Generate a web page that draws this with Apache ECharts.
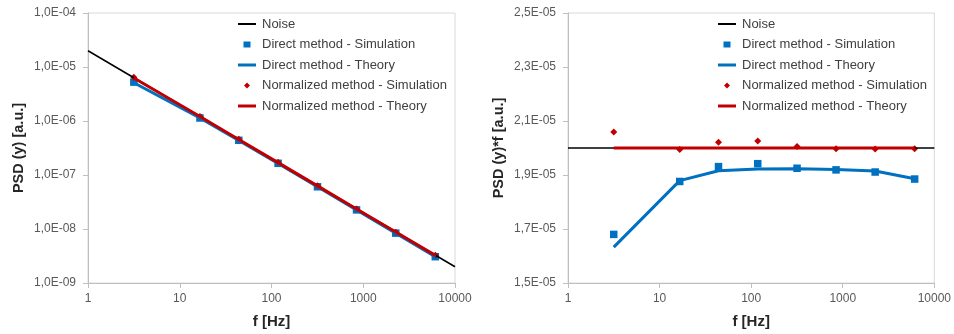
<!DOCTYPE html>
<html lang="en">
<head>
    <meta charset="UTF-8">
    <title>PSD</title>
    <style>
        html, body { margin: 0; padding: 0; background: #fff; }
        #chart { width: 954px; height: 334px; }
    </style>
</head>
<body>
    <div id="chart"></div>
    <script src="https://cdn.jsdelivr.net/npm/echarts@6/dist/echarts.min.js"></script>
    <script type="text/javascript">
    // frequencies of the simulated points [Hz]
    var freq = [3.16, 16.6, 44, 118, 317, 845, 2260, 6100];
    var noiseFreq = [1, 10000];
    var xTicks = ['1', '10', '100', '1000', '10000'];

    // left: PSD(y)
    var noisePsd = [2e-5, 2e-9];
    var directSimPsd = [5.25e-6, 1.137e-6, 4.39e-7, 1.646e-7, 6.05e-8, 2.26e-8, 8.38e-9, 3.07e-9];
    var directThPsd = [5.10e-6, 1.139e-6, 4.35e-7, 1.629e-7, 6.05e-8, 2.26e-8, 8.40e-9, 3.07e-9];
    var normSimPsd = [6.43e-6, 1.208e-6, 4.59e-7, 1.717e-7, 6.31e-8, 2.35e-8, 8.75e-9, 3.25e-9];
    var normThPsd = [6.25e-6, 1.212e-6, 4.55e-7, 1.695e-7, 6.29e-8, 2.35e-8, 8.77e-9, 3.25e-9];

    // right: PSD(y)*f
    var noisePsdF = [2.0e-5, 2.0e-5];
    var directSimPsdF = [1.680e-5, 1.876e-5, 1.931e-5, 1.942e-5, 1.925e-5, 1.919e-5, 1.911e-5, 1.885e-5];
    var directThPsdF = [1.633e-5, 1.879e-5, 1.916e-5, 1.922e-5, 1.923e-5, 1.920e-5, 1.915e-5, 1.886e-5];
    var normSimPsdF = [2.059e-5, 1.994e-5, 2.021e-5, 2.026e-5, 2.006e-5, 1.997e-5, 1.996e-5, 1.997e-5];
    var normThPsdF = [2.0e-5, 2.0e-5, 2.0e-5, 2.0e-5, 2.0e-5, 2.0e-5, 2.0e-5, 2.0e-5];

    var FONT = "'Liberation Sans', Arial, sans-serif";
    var BLUE = '#0070C0', RED = '#C00000';
    var NAMES = ['Noise', 'Direct method - Simulation', 'Direct method - Theory',
        'Normalized method - Simulation', 'Normalized method - Theory'];

    function pairs(xs, ys) {
        return xs.map(function(x, i) { return [x, ys[i]]; });
    }

    function sciLabel(v) {
        var e = Math.round(Math.log10(v));
        var m = v / Math.pow(10, e);
        var s = Math.abs(e) < 10 ? '0' + Math.abs(e) : '' + Math.abs(e);
        return m.toFixed(1).replace('.', ',') + 'E' + (e < 0 ? '-' : '+') + s;
    }

    function xAxis(idx) {
        return {
            type: 'log', logBase: 10, gridIndex: idx, min: 1, max: 10000,
            name: 'f [Hz]', nameLocation: 'middle', nameGap: 31,
            nameTextStyle: { fontFamily: FONT, fontSize: 15, fontWeight: 'bold', color: '#262626' },
            axisLine: { lineStyle: { color: '#bfbfbf' } },
            axisTick: { show: true, length: 5, lineStyle: { color: '#bfbfbf' } },
            minorTick: { show: false },
            splitLine: { show: false },
            axisLabel: {
                fontFamily: FONT, fontSize: 12, color: '#595959', margin: 10,
                formatter: function(v) {
                    var i = Math.round(Math.log10(v));
                    return xTicks[i] || '';
                }
            }
        };
    }

    function yAxisBase(idx, title) {
        return {
            gridIndex: idx,
            name: title, nameLocation: 'middle', nameGap: 62, nameRotate: 90,
            nameTextStyle: { fontFamily: FONT, fontSize: 14.5, fontWeight: 'bold', color: '#262626' },
            axisLine: { show: true, lineStyle: { color: '#bfbfbf' } },
            axisTick: { show: true, length: 5, lineStyle: { color: '#bfbfbf' } },
            splitLine: { show: false },
            axisLabel: { fontFamily: FONT, fontSize: 12, color: '#595959', margin: 12, formatter: sciLabel }
        };
    }

    var yLeft = yAxisBase(0, 'PSD (y) [a.u.]');
    yLeft.type = 'log';
    yLeft.logBase = 10;
    yLeft.min = 1e-9;
    yLeft.max = 1e-4;
    yLeft.minorTick = { show: false };

    var yRight = yAxisBase(1, 'PSD (y)*f [a.u.]');
    yRight.type = 'value';
    yRight.min = 1.5e-5;
    yRight.max = 2.5e-5;
    yRight.interval = 2e-6;
    yRight.axisLabel.formatter = function(v) {
        return (v * 1e5).toFixed(1).replace('.', ',') + 'E-05';
    };

    function seriesFor(idx, noise, dSim, dTh, nSim, nTh) {
        return [
            { name: NAMES[0], type: 'line', xAxisIndex: idx, yAxisIndex: idx, data: pairs(noiseFreq, noise),
              symbol: 'none', lineStyle: { color: '#000', width: 1.5 }, itemStyle: { color: '#000' }, silent: true },
            { name: NAMES[1], type: 'scatter', xAxisIndex: idx, yAxisIndex: idx, data: pairs(freq, dSim),
              symbol: 'rect', symbolSize: 7.5, itemStyle: { color: BLUE, opacity: 1 } },
            { name: NAMES[2], type: 'line', xAxisIndex: idx, yAxisIndex: idx, data: pairs(freq, dTh),
              symbol: 'none', lineStyle: { color: BLUE, width: 3 }, itemStyle: { color: BLUE } },
            { name: NAMES[3], type: 'scatter', xAxisIndex: idx, yAxisIndex: idx, data: pairs(freq, nSim),
              symbol: 'diamond', symbolSize: 7, itemStyle: { color: RED, opacity: 1 } },
            { name: NAMES[4], type: 'line', xAxisIndex: idx, yAxisIndex: idx, data: pairs(freq, nTh),
              symbol: 'none', lineStyle: { color: RED, width: 3 }, itemStyle: { color: RED } }
        ];
    }

    // legend icons: the leading moves fix the bounding box so the mark keeps its place
    var thinBar = 'path://M0,0 M20,3 M1,0.5H19V2.5H1Z';
    var thickBar = 'path://M0,0 M20,3 M1,0H19V3H1Z';
    var square = 'path://M0,0 M20,7 M6.5,0.5H13.5V6.5H6.5Z';
    var diamond = 'path://M0,0 M20,7 M10,0.5L13,3.5L10,6.5L7,3.5Z';

    function legends(left) {
        var txt = { fontFamily: FONT, fontSize: 13, color: '#404040', lineHeight: 14 };
        return [
            { left: left, top: 17, orient: 'vertical', padding: 0, itemGap: 27, itemWidth: 20, itemHeight: 3,
              selectedMode: false, textStyle: txt,
              data: [{ name: NAMES[0], icon: thinBar }, { name: NAMES[2], icon: thickBar }, { name: NAMES[4], icon: thickBar }] },
            { left: left, top: 37.5, orient: 'vertical', padding: 0, itemGap: 27, itemWidth: 20, itemHeight: 7,
              selectedMode: false, textStyle: txt,
              data: [{ name: NAMES[1], icon: square }, { name: NAMES[3], icon: diamond }] }
        ];
    }

    var chart = echarts.init(document.getElementById('chart'), null, { renderer: 'canvas' });
    chart.setOption({
        animation: false,
        backgroundColor: '#fff',
        grid: [
            { left: 88, right: 499, top: 13, bottom: 51, show: true, borderColor: '#d9d9d9', borderWidth: 1 },
            { left: 568, right: 19, top: 13, bottom: 51, show: true, borderColor: '#d9d9d9', borderWidth: 1 }
        ],
        legend: legends(237).concat(legends(717)),
        xAxis: [xAxis(0), xAxis(1)],
        yAxis: [yLeft, yRight],
        series: seriesFor(0, noisePsd, directSimPsd, directThPsd, normSimPsd, normThPsd)
            .concat(seriesFor(1, noisePsdF, directSimPsdF, directThPsdF, normSimPsdF, normThPsdF))
    });
    </script>
</body>
</html>
